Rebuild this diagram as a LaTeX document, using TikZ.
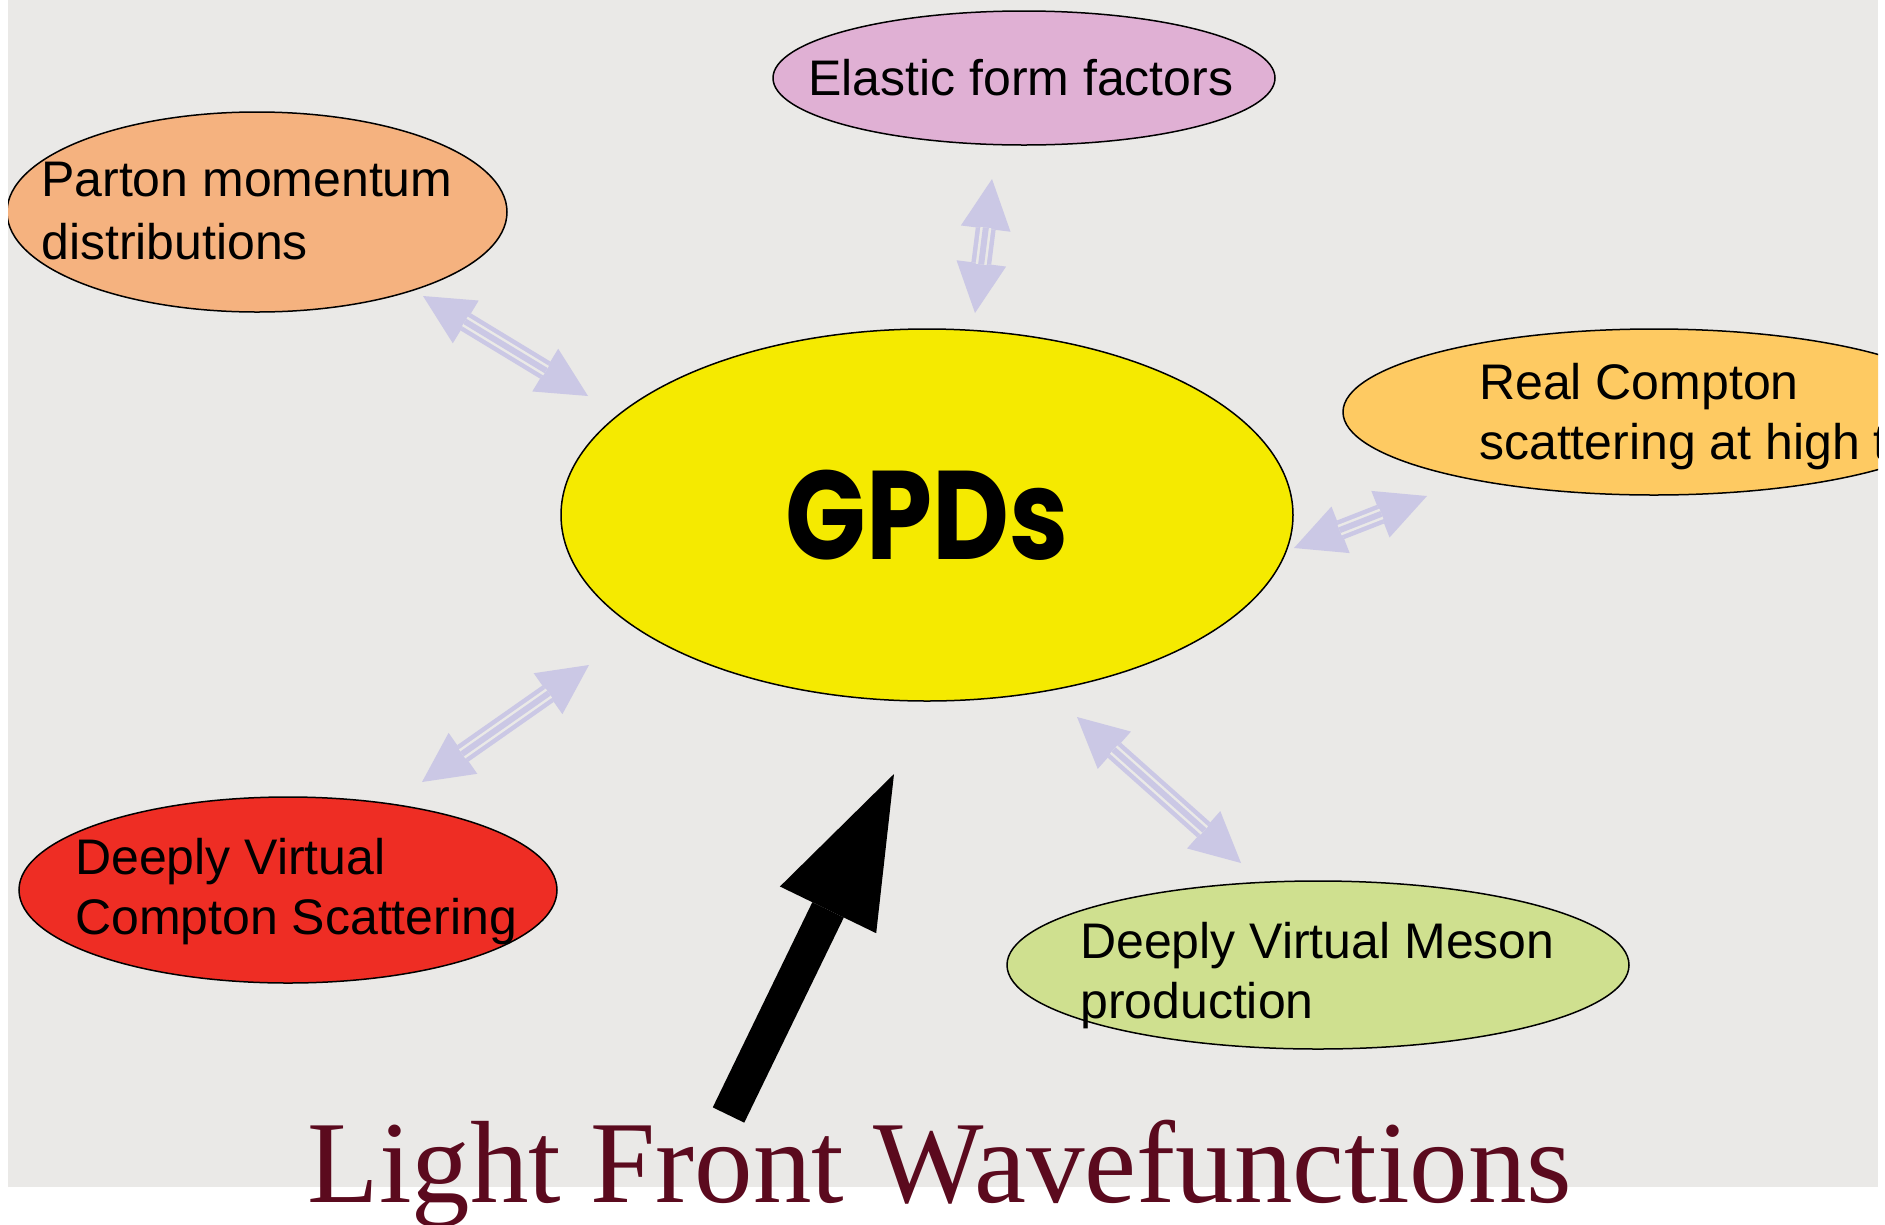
\documentclass[tikz,border=0pt]{standalone}
\usepackage{fontspec}
\setmainfont{Liberation Sans}
\newfontfamily\titlefont{Liberation Serif}
\newfontfamily\gpdfont{Poppins}
\usetikzlibrary{shapes.geometric,arrows.meta}
\definecolor{bggrey}{RGB}{234,233,231}
\definecolor{lav}{RGB}{203,200,229}
\definecolor{elasticpink}{RGB}{224,176,212}
\definecolor{partonorange}{RGB}{245,178,127}
\definecolor{gpdyellow}{RGB}{245,234,0}
\definecolor{comptonorange}{RGB}{254,202,98}
\definecolor{dvcsred}{RGB}{238,45,36}
\definecolor{dvmpgreen}{RGB}{207,224,143}
\definecolor{titlemaroon}{RGB}{91,10,30}
\newcommand\duallink[2]{%
  \draw[lav, line width=20pt,
    {Triangle[length=50pt,width=50pt,line width=0pt]}-{Triangle[length=50pt,width=50pt,line width=0pt]}]
    (#1) -- (#2);
  \draw[bggrey, line width=2.5pt, double=lav, double distance=6pt,
    shorten <=49pt, shorten >=49pt] (#1) -- (#2);}
\begin{document}
\begin{tikzpicture}[x=1pt,y=-1pt,
  bubble/.style={ellipse, draw=black, line width=1.5pt, inner sep=0pt},
  lbl/.style={anchor=north west, inner sep=0pt, align=left,
              font=\fontsize{50}{60}\selectfont}]
\useasboundingbox (0,0) rectangle (1885,1224);
\fill[bggrey] (8,0) rectangle (1878,1187);
\begin{scope}
\clip (8,0) rectangle (1878,1224);
% ellipses
\node[bubble, fill=elasticpink, minimum width=502pt, minimum height=134pt] (elastic) at (1024,78) {};
\node[bubble, fill=partonorange, minimum width=500pt, minimum height=200pt] (parton) at (257,212) {};
\node[bubble, fill=comptonorange, minimum width=622pt, minimum height=166pt] (compton) at (1654,412) {};
\node[bubble, fill=dvcsred, minimum width=538pt, minimum height=186pt] (dvcs) at (288,890) {};
\node[bubble, fill=dvmpgreen, minimum width=622pt, minimum height=168pt] (dvmp) at (1318,965) {};
\node[bubble, fill=gpdyellow, minimum width=732pt, minimum height=372pt,
      font=\gpdfont\bfseries\fontsize{126}{126}\selectfont] (gpds) at (927,515) {\scalebox{0.84}[1]{GPDs}};
% labels
\node[lbl] (elastictext) at (808,59) {Elastic form factors};
\node[lbl, font=\fontsize{50}{63}\selectfont] (partontext) at (41,162) {Parton momentum\\distributions};
\node[lbl] (comptontext) at (1479,363) {Real Compton\\scattering at high t};
\node[lbl] (dvcstext) at (75,838) {Deeply Virtual\\Compton Scattering};
\node[lbl] (dvmptext) at (1080,922) {Deeply Virtual Meson\\production};
\end{scope}
% link arrows
\coordinate (p1a) at (423,296); \coordinate (p1b) at (588,396);
\coordinate (e1a) at (992,179); \coordinate (e1b) at (975,313);
\coordinate (r1a) at (1294,548); \coordinate (r1b) at (1427,496);
\coordinate (d1a) at (422,782); \coordinate (d1b) at (589,665);
\coordinate (m1a) at (1077,717); \coordinate (m1b) at (1241,863);
\duallink{p1a}{p1b}
\duallink{e1a}{e1b}
\duallink{r1a}{r1b}
\duallink{d1a}{d1b}
\duallink{m1a}{m1b}
% title and big arrow
\node[anchor=base, inner sep=0pt, text=titlemaroon,
      font=\titlefont\fontsize{117}{117}\selectfont] (lfw) at (940,1202) {Light Front Wavefunctions};
\coordinate (lfwtail) at (728.5,1115);
\coordinate (lfwtip) at (894,774);
\draw[black, line width=35pt, -{Triangle[length=151pt,width=107pt,line width=0pt]}] (lfwtail) -- (lfwtip);
\end{tikzpicture}
\end{document}
